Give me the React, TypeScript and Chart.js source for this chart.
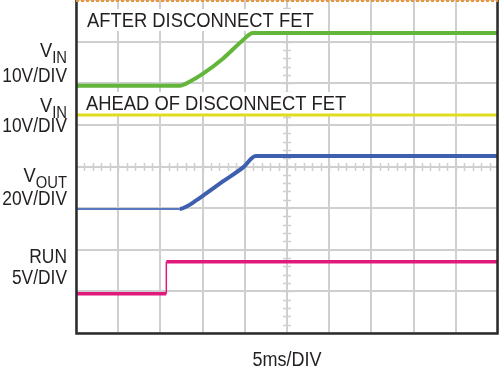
import React, { useEffect, useRef } from "react";
import { Chart, registerables } from "chart.js";

Chart.register(...registerables);

// Horizontal: time in ms (5ms/DIV, 10 divisions). Vertical: screen divisions (0..8).
const TIME_MAX = 50;
const DIV_MAX = 8;

const vinAfterT = [0, 12.3, 13.5, 15.05, 17.4, 19.8, 20.95, 50];
const vinAfterV = [5.94, 5.94, 6.04, 6.23, 6.59, 7.04, 7.21, 7.21];

const vinAheadT = [0, 50];
const vinAheadV = [5.24, 5.24];

const voutT = [0, 12.3, 13.2, 14.2, 15.05, 17.4, 19.8, 21.3, 50];
const voutV = [2.98, 2.98, 3.05, 3.18, 3.3, 3.64, 3.98, 4.25, 4.25];

const runT = [0, 10.7, 10.7, 50];
const runV = [0.94, 0.94, 1.71, 1.71];

const TOP_LABELS = ["AFTER DISCONNECT FET", "AHEAD OF DISCONNECT FET"];
const X_LABEL = "5ms/DIV";

const GRID = "#cfcfcf";
const TEXT = "#231f20";
const FONT = "'Liberation Sans', Arial, Helvetica, sans-serif";

const pts = (t: number[], v: number[]) => t.map((x, i) => ({ x, y: v[i] }));

function drawScaled(
  ctx: CanvasRenderingContext2D,
  text: string,
  x: number,
  y: number,
  size: number,
  sx: number,
  align: CanvasTextAlign
) {
  ctx.save();
  ctx.translate(x, y);
  ctx.scale(sx, 1);
  ctx.font = `${size}px ${FONT}`;
  ctx.textAlign = align;
  ctx.textBaseline = "alphabetic";
  ctx.fillText(text, 0, 0);
  ctx.restore();
}

function measureScaled(ctx: CanvasRenderingContext2D, text: string, size: number, sx: number) {
  ctx.save();
  ctx.font = `${size}px ${FONT}`;
  const w = ctx.measureText(text).width * sx;
  ctx.restore();
  return w;
}

const scopePlugin = {
  id: "scope",
  beforeDatasetsDraw(chart: any) {
    const ctx: CanvasRenderingContext2D = chart.ctx;
    const xs = chart.scales.x;
    const ys = chart.scales.y;
    ctx.save();
    // minor ticks on centre lines
    ctx.strokeStyle = GRID;
    ctx.lineWidth = 1.5;
    const cx = Math.round(xs.getPixelForValue(TIME_MAX / 2));
    const cy = Math.round(ys.getPixelForValue(DIV_MAX / 2));
    ctx.beginPath();
    for (let v = 0; v <= DIV_MAX + 1e-6; v += 0.2) {
      const py = Math.round(ys.getPixelForValue(v)) + 0.5;
      ctx.moveTo(cx - 4, py);
      ctx.lineTo(cx + 4, py);
    }
    for (let t = 0; t <= TIME_MAX + 1e-6; t += 1) {
      const px = Math.round(xs.getPixelForValue(t)) + 0.5;
      ctx.moveTo(px, cy - 4);
      ctx.lineTo(px, cy + 4);
    }
    ctx.stroke();

    // trace titles with white backgrounds
    const sx = 0.875;
    const size = 21;
    const tl = [
      { text: TOP_LABELS[0], x: 87, y: 27 },
      { text: TOP_LABELS[1], x: 86, y: 110 },
    ];
    tl.forEach((l) => {
      const w = measureScaled(ctx, l.text, size, sx);
      ctx.fillStyle = "#ffffff";
      ctx.fillRect(l.x - 3, l.y - 18, w + 6, 22);
      ctx.fillStyle = TEXT;
      drawScaled(ctx, l.text, l.x, l.y, size, sx, "left");
    });
    ctx.restore();
  },
  afterDraw(chart: any) {
    const ctx: CanvasRenderingContext2D = chart.ctx;
    const area = chart.chartArea;
    ctx.save();
    // frame
    ctx.strokeStyle = "#2b2b2b";
    ctx.lineWidth = 2.5;
    ctx.beginPath();
    ctx.moveTo(area.left + 0.5, area.top);
    ctx.lineTo(area.left + 0.5, area.bottom + 0.5);
    ctx.lineTo(area.right - 0.5, area.bottom + 0.5);
    ctx.lineTo(area.right - 0.5, area.top);
    ctx.stroke();
    // top trigger marker (dashed orange)
    ctx.strokeStyle = "#e5973a";
    ctx.lineWidth = 2;
    ctx.setLineDash([3, 2]);
    ctx.beginPath();
    ctx.moveTo(area.left, area.top + 1);
    ctx.lineTo(area.right, area.top + 1);
    ctx.stroke();
    ctx.setLineDash([]);

    // channel labels on the left
    ctx.fillStyle = TEXT;
    const R = 67;
    const size = 20;
    const sx = 0.87;
    const subSize = 17;
    const withSub = (main: string, sub: string, yb: number) => {
      const w = measureScaled(ctx, sub, subSize, sx);
      drawScaled(ctx, sub, R, yb + 5.5, subSize, sx, "right");
      drawScaled(ctx, main, R - w, yb, size + 1, sx, "right");
    };
    withSub("V", "IN", 57);
    drawScaled(ctx, "10V/DIV", R, 82, size, sx, "right");
    withSub("V", "IN", 112);
    drawScaled(ctx, "10V/DIV", R, 132, size, sx, "right");
    withSub("V", "OUT", 182);
    drawScaled(ctx, "20V/DIV", R, 205, size, sx, "right");
    drawScaled(ctx, "RUN", R, 263, size, sx, "right");
    drawScaled(ctx, "5V/DIV", R, 284, size, sx, "right");

    // x axis caption
    const cx = chart.scales.x.getPixelForValue(TIME_MAX / 2);
    drawScaled(ctx, X_LABEL, cx, 366, 20, 0.9, "center");
    ctx.restore();
  },
};

export default function App() {
  const ref = useRef<HTMLCanvasElement | null>(null);

  useEffect(() => {
    document.body.style.margin = "0";
    if (!ref.current) return;
    const chart = new Chart(ref.current, {
      type: "line",
      data: {
        datasets: [
          {
            label: "VIN after disconnect FET",
            data: pts(vinAfterT, vinAfterV),
            borderColor: "#63b63a",
            borderWidth: 4,
            cubicInterpolationMode: "monotone",
          },
          {
            label: "VIN ahead of disconnect FET",
            data: pts(vinAheadT, vinAheadV),
            borderColor: "#e0dc20",
            borderWidth: 3,
          },
          {
            label: "VOUT",
            data: pts(voutT, voutV),
            borderColor: "#3d5fb0",
            borderWidth: 4,
            cubicInterpolationMode: "monotone",
            segment: {
              borderWidth: (c: any) => (c.p1.parsed.x <= 12.31 ? 2 : 4),
              borderColor: (c: any) => (c.p1.parsed.x <= 12.31 ? "#5a79c0" : "#3d5fb0"),
            },
          },
          {
            label: "RUN",
            data: pts(runT, runV),
            borderColor: "#e2197c",
            borderWidth: 3.5,
            segment: {
              borderWidth: (c: any) => (c.p0.parsed.x === c.p1.parsed.x ? 1.5 : 3.5),
            },
          },
        ],
      } as any,
      options: {
        responsive: false,
        animation: false,
        layout: { padding: { left: 76, right: 1, top: 0, bottom: 35 } },
        plugins: { legend: { display: false }, tooltip: { enabled: false } },
        elements: { point: { radius: 0 }, line: { borderCapStyle: "butt" } },
        scales: {
          x: {
            type: "linear",
            min: 0,
            max: TIME_MAX,
            ticks: { display: false, stepSize: 5 },
            grid: { color: GRID, lineWidth: 2, drawTicks: false },
            border: { display: false },
          },
          y: {
            type: "linear",
            min: 0,
            max: DIV_MAX,
            ticks: { display: false, stepSize: 1 },
            grid: { color: GRID, lineWidth: 2, drawTicks: false },
            border: { display: false },
          },
        },
      } as any,
      plugins: [scopePlugin as any],
    });
    return () => chart.destroy();
  }, []);

  return <canvas ref={ref} width={499} height={368} style={{ display: "block" }} />;
}
